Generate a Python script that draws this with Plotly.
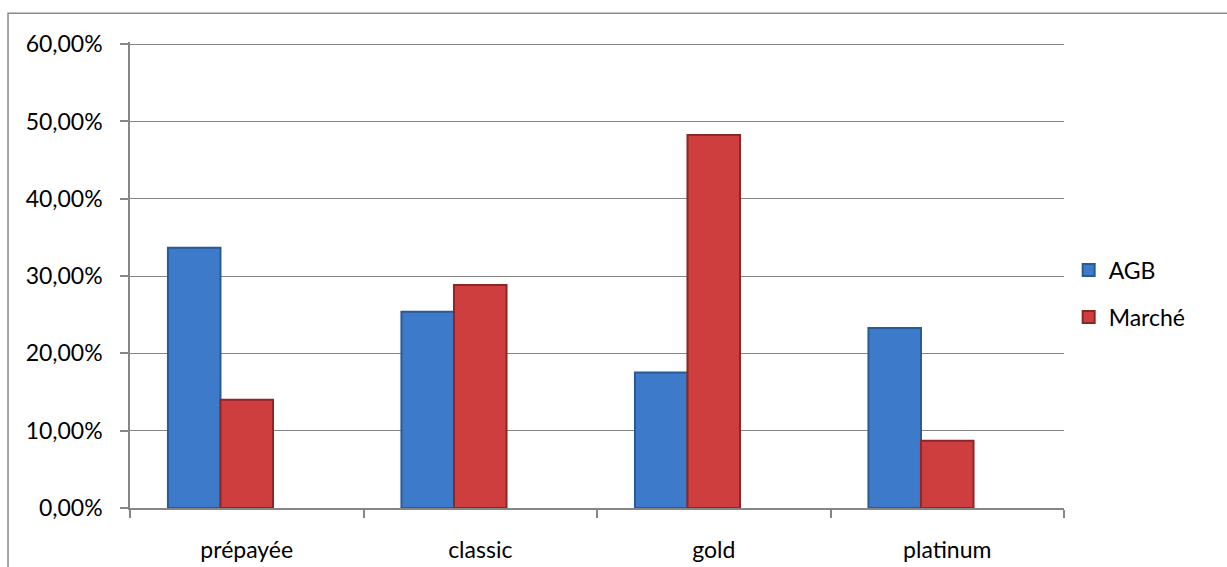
import plotly.graph_objects as go

# Card types and the share of each for AGB vs. the whole market
categories = ["prépayée", "classic", "gold", "platinum"]
agb = [0.3366, 0.254, 0.1754, 0.2327]
marche = [0.140, 0.2886, 0.4826, 0.087]
series_names = ["AGB", "Marché"]

FONT = "Lato, 'Open Sans', sans-serif"
FS = 23
BAR_W = 0.225

fig = go.Figure()
fig.add_trace(go.Bar(
    x=categories, y=agb, name=series_names[0], legendgroup="a",
    width=BAR_W, offset=-1.5 * BAR_W,
    marker=dict(color="#3D7BCA", line=dict(color="#2A5A96", width=2)),
))
fig.add_trace(go.Bar(
    x=categories, y=marche, name=series_names[1], legendgroup="b",
    width=BAR_W, offset=-0.5 * BAR_W,
    marker=dict(color="#CE3E3E", line=dict(color="#8C2727", width=2)),
))

fig.update_layout(
    width=1227, height=567,
    margin=dict(l=130, r=163, t=42, b=59),
    paper_bgcolor="white", plot_bgcolor="white",
    separators=", ",
    font=dict(family=FONT, size=FS, color="#000000"),
    barmode="overlay",
    showlegend=True,
    legend=dict(
        x=1.005, y=0.46, xanchor="left", yanchor="middle",
        font=dict(family=FONT, size=FS), tracegroupgap=14,
        itemwidth=30,
        bgcolor="rgba(0,0,0,0)",
    ),
    xaxis=dict(
        type="category", range=[-0.5, 3.5], automargin=False,
        showline=True, linecolor="#868686", linewidth=1.5,
        ticks="outside", tickson="boundaries", ticklen=8,
        tickcolor="#868686", tickwidth=1.5,
        ticklabelstandoff=21,
        showgrid=False, zeroline=False,
        tickfont=dict(family=FONT, size=FS),
    ),
    yaxis=dict(
        range=[0, 0.6028], tickvals=[0, 0.1, 0.2, 0.3, 0.4, 0.5, 0.6],
        tickformat=".2%", automargin=False,
        showline=True, linecolor="#868686", linewidth=1.5,
        ticks="outside", ticklen=8, tickcolor="#868686", tickwidth=1.5,
        ticklabelstandoff=13,
        showgrid=True, gridcolor="#868686", gridwidth=1.3,
        zeroline=False,
        tickfont=dict(family=FONT, size=FS),
    ),
    shapes=[dict(
        type="rect", xref="paper", yref="paper",
        x0=-0.1306, x1=1.4, y0=-0.4, y1=1.0615,
        line=dict(color="#8A8A8A", width=1.5), layer="below",
    )],
)

fig.write_html("out.html")
